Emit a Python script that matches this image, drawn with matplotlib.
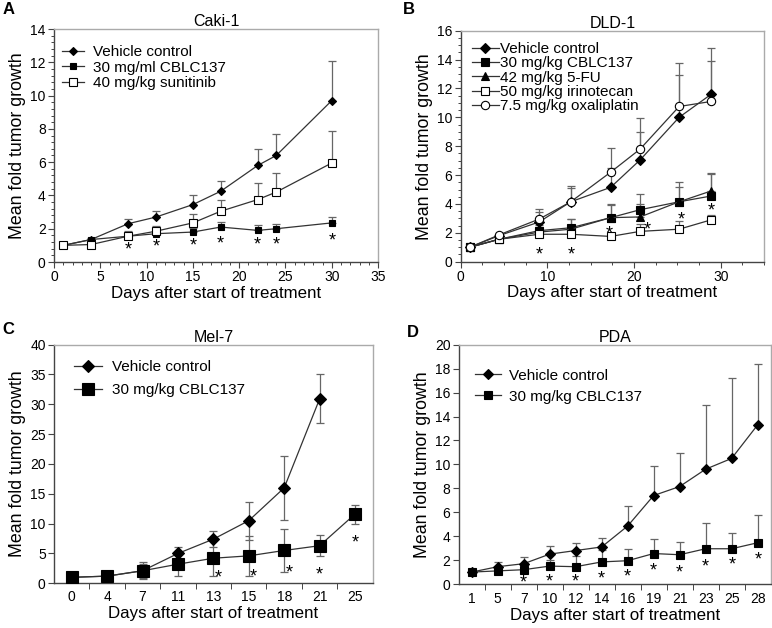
import numpy as np
import matplotlib
matplotlib.use("Agg")
import matplotlib.pyplot as plt
from matplotlib.ticker import MultipleLocator, FixedLocator
from matplotlib.transforms import offset_copy

plt.rcParams['font.family'] = ['Liberation Sans', 'DejaVu Sans']

# ---- panel A: Caki-1
a_days = [1, 4, 8, 11, 15, 18, 22, 24, 30]
a_vehicle = [1.0, 1.35, 2.3, 2.7, 3.45, 4.25, 5.8, 6.4, 9.7]
a_vehicle_err = [0.0, 0.1, 0.3, 0.35, 0.55, 0.6, 1.0, 1.3, 2.4]
a_cblc = [1.0, 1.35, 1.55, 1.7, 1.8, 2.1, 1.9, 2.0, 2.35]
a_cblc_err = [0.0, 0.05, 0.2, 0.25, 0.25, 0.3, 0.3, 0.3, 0.35]
a_suni = [1.0, 1.05, 1.55, 1.85, 2.35, 3.05, 3.75, 4.2, 5.95]
a_suni_err = [0.0, 0.05, 0.3, 0.3, 0.55, 0.7, 1.0, 1.15, 1.95]
a_star_x = [8, 11, 15, 18, 22, 24, 30]
a_star_y = [1.1, 1.25, 1.3, 1.45, 1.4, 1.4, 1.6]

# ---- panel B: DLD-1
b_days = [1.05, 4.4, 9.05, 12.7, 17.3, 20.7, 25.2, 28.9]
b_vehicle = [1.0, 1.8, 2.75, 4.15, 5.15, 7.05, 10.0, 11.6]
b_vehicle_err = [0.0, 0.1, 0.7, 0.95, 1.35, 1.95, 2.9, 3.2]
b_cblc = [1.0, 1.55, 2.15, 2.35, 3.05, 3.6, 4.15, 4.55]
b_cblc_err = [0.0, 0.1, 0.4, 0.6, 0.85, 1.1, 1.4, 1.55]
b_fu = [1.0, 1.55, 2.05, 2.25, 3.05, 3.1, 4.15, 4.9]
b_fu_err = [0.0, 0.1, 0.35, 0.7, 0.95, 0.9, 1.05, 1.25]
b_irino = [1.0, 1.55, 1.9, 1.9, 1.75, 2.1, 2.25, 2.9]
b_irino_err = [0.0, 0.05, 0.1, 0.1, 0.1, 0.5, 0.6, 0.3]
b_oxali = [1.0, 1.85, 2.95, 4.15, 6.2, 7.8, 10.75, 11.1]
b_oxali_err = [0.0, 0.1, 0.7, 1.1, 1.7, 2.15, 3.0, 2.8]
b_star_x = [9.05, 12.7, 17.1, 21.5, 25.5, 28.9]
b_star_y = [0.9, 0.9, 2.3, 2.6, 3.3, 3.9]

# ---- panel C: Mel-7
c_labels = ['0', '4', '7', '11', '13', '15', '18', '21', '25']
c_vehicle = [1.0, 1.2, 2.1, 5.0, 7.4, 10.5, 16.0, 30.9]
c_vehicle_err = [0.0, 0.2, 1.4, 1.0, 1.4, 3.2, 5.4, 4.1]
c_cblc = [1.0, 1.2, 2.1, 3.2, 4.2, 4.6, 5.5, 6.3, 11.6]
c_cblc_err = [0.0, 0.2, 1.2, 2.0, 3.0, 3.4, 3.6, 1.8, 1.6]
c_star_x = [4.13, 5.12, 6.13, 6.98, 8.0]
c_star_y = [1.9, 2.0, 2.7, 2.4, 7.8]

# ---- panel D: PDA
d_labels = ['1', '5', '7', '10', '12', '14', '16', '19', '21', '23', '25', '28']
d_vehicle = [1.0, 1.45, 1.7, 2.5, 2.8, 3.1, 4.85, 7.4, 8.15, 9.6, 10.5, 13.3]
d_vehicle_err = [0.0, 0.4, 0.6, 0.65, 0.6, 0.75, 1.7, 2.45, 2.8, 5.4, 6.7, 5.1]
d_cblc = [1.0, 1.1, 1.2, 1.5, 1.45, 1.85, 1.95, 2.55, 2.45, 2.95, 2.95, 3.45]
d_cblc_err = [0.0, 0.3, 0.4, 0.5, 0.9, 1.0, 1.0, 1.25, 1.1, 2.15, 1.3, 2.3]
d_star_x = [2, 3, 4, 5, 6, 6.98, 8, 8.98, 10.03, 11.02]
d_star_y = [0.55, 0.65, 0.65, 0.9, 1.05, 1.55, 1.4, 1.9, 2.1, 2.55]

fig = plt.figure(figsize=(7.72, 6.28), dpi=100)
axA = fig.add_axes([0.070, 0.5828, 0.4197, 0.371])
axB = fig.add_axes([0.5968, 0.5833, 0.3929, 0.3678])
axC = fig.add_axes([0.070, 0.0712, 0.4128, 0.380])
axD = fig.add_axes([0.5942, 0.070, 0.404, 0.381])

line_kw = dict(color='#333333', lw=0.9)
err_kw = dict(ecolor='#666666', elinewidth=0.9, capsize=3, capthick=0.9)
STAR_FS = 13


def style(ax):
    for s in ['top', 'right']:
        ax.spines[s].set_color('#aaaaaa')
        ax.spines[s].set_linewidth(1.0)
    for s in ['left', 'bottom']:
        ax.spines[s].set_color('#444444')
        ax.spines[s].set_linewidth(1.0)
    ax.tick_params(direction='out', labelsize=10, length=4, width=0.8, color='#444444', pad=2)
    ax.tick_params(which='minor', direction='out', length=2.5, width=0.7, color='#444444')
    ax.set_ylabel('Mean fold tumor growth', fontsize=12.8, labelpad=3)
    ax.set_xlabel('Days after start of treatment', fontsize=12.2, labelpad=1)


def series(ax, x, y, err, marker, ms, face, label, both=False):
    yerr = [err, err] if both else [np.zeros(len(err)), err]
    ax.errorbar(x, y, yerr=yerr, fmt='none', zorder=1, **err_kw)
    ax.plot(x, y, marker=marker, ms=ms, mfc=face, mec='black', mew=0.8,
            label=label, zorder=3, **line_kw)


def stars(ax, xs, ys):
    # shift down so the glyph itself is centred on the value
    tr = offset_copy(ax.transData, fig=fig, y=-0.58 * STAR_FS, units='points')
    for x, y in zip(xs, ys):
        ax.text(x, y, '*', ha='center', va='baseline', fontsize=STAR_FS, transform=tr)


def legend(ax, anchor, hl, htp, ls):
    ax.legend(loc='upper left', bbox_to_anchor=anchor, frameon=False, fontsize=11,
              handlelength=hl, handletextpad=htp, labelspacing=ls,
              borderpad=0, borderaxespad=0)


# A
series(axA, a_days, a_vehicle, a_vehicle_err, 'D', 4, 'black', 'Vehicle control')
series(axA, a_days, a_cblc, a_cblc_err, 's', 5, 'black', '30 mg/ml CBLC137')
series(axA, a_days, a_suni, a_suni_err, 's', 6, 'white', '40 mg/kg sunitinib')
stars(axA, a_star_x, a_star_y)
axA.set_xlim(0, 35)
axA.set_ylim(0, 14)
axA.xaxis.set_major_locator(MultipleLocator(5))
axA.xaxis.set_minor_locator(MultipleLocator(1))
axA.yaxis.set_major_locator(MultipleLocator(2))
axA.yaxis.set_minor_locator(MultipleLocator(0.4))
style(axA)
axA.set_title('Caki-1', fontsize=11.5, pad=1.5)
legend(axA, (0.025, 0.931), 1.4, 0.6, 0.1)

# B
series(axB, b_days, b_vehicle, b_vehicle_err, 'D', 5.5, 'black', 'Vehicle control')
series(axB, b_days, b_cblc, b_cblc_err, 's', 5.5, 'black', '30 mg/kg CBLC137')
series(axB, b_days, b_fu, b_fu_err, '^', 6, 'black', '42 mg/kg 5-FU')
series(axB, b_days, b_irino, b_irino_err, 's', 5.5, 'white', '50 mg/kg irinotecan')
series(axB, b_days, b_oxali, b_oxali_err, 'o', 6, 'white', '7.5 mg/kg oxaliplatin')
stars(axB, b_star_x, b_star_y)
axB.set_xlim(0, 35)
axB.set_ylim(0, 16)
axB.xaxis.set_major_locator(MultipleLocator(10))
axB.xaxis.set_minor_locator(MultipleLocator(2.5))
axB.yaxis.set_major_locator(MultipleLocator(2))
axB.yaxis.set_minor_locator(MultipleLocator(0.5))
style(axB)
axB.set_title('DLD-1', fontsize=11.5, pad=1.5)
legend(axB, (0.037, 0.951), 1.75, 0.1, 0.02)

# C
cx = np.arange(len(c_labels))
series(axC, cx[:len(c_vehicle)], c_vehicle, c_vehicle_err, 'D', 6, 'black', 'Vehicle control', both=True)
series(axC, cx, c_cblc, c_cblc_err, 's', 8.5, 'black', '30 mg/kg CBLC137', both=True)
stars(axC, c_star_x, c_star_y)
axC.set_xlim(-0.5, len(c_labels) - 0.5)
axC.set_ylim(0, 40)
axC.set_xticks(cx)
axC.set_xticklabels(c_labels)
axC.xaxis.set_minor_locator(FixedLocator(cx[:-1] + 0.5))
axC.yaxis.set_major_locator(MultipleLocator(5))
style(axC)
axC.tick_params(axis='x', which='major', length=0, pad=5)
axC.tick_params(axis='x', which='minor', length=4)
axC.set_title('Mel-7', fontsize=11.5, pad=1.5)
legend(axC, (0.063, 0.935), 1.85, 0.65, 0.58)

# D
dx = np.arange(len(d_labels))
series(axD, dx, d_vehicle, d_vehicle_err, 'D', 5, 'black', 'Vehicle control')
series(axD, dx, d_cblc, d_cblc_err, 's', 5.5, 'black', '30 mg/kg CBLC137')
stars(axD, d_star_x, d_star_y)
axD.set_xlim(-0.5, len(d_labels) - 0.5)
axD.set_ylim(0, 20)
axD.set_xticks(dx)
axD.set_xticklabels(d_labels)
axD.xaxis.set_minor_locator(FixedLocator(dx[:-1] + 0.5))
axD.yaxis.set_major_locator(MultipleLocator(2))
style(axD)
axD.tick_params(axis='x', which='major', length=0, pad=6)
axD.tick_params(axis='x', which='minor', length=4)
axD.set_title('PDA', fontsize=11.5, pad=1.5)
legend(axD, (0.052, 0.90), 1.7, 0.55, 0.45)

for lab, x, y in [('A', 0.003, 0.997), ('B', 0.522, 0.997), ('C', 0.003, 0.487), ('D', 0.527, 0.482)]:
    fig.text(x, y, lab, fontsize=12, fontweight='bold', va='top', ha='left')

fig.savefig('out.png', dpi=100)
